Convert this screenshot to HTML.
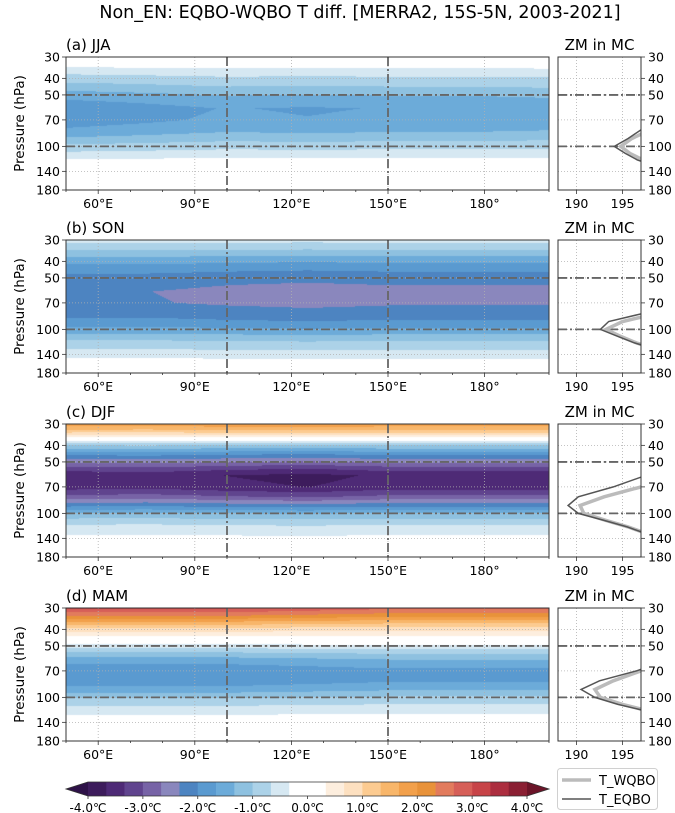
<!DOCTYPE html>
<html><head><meta charset="utf-8">
<style>
html,body{margin:0;padding:0;background:#fff;}
#wrap{position:relative;width:675px;height:813px;overflow:hidden;font-family:"DejaVu Sans","Liberation Sans",sans-serif;}
canvas{position:absolute;}
svg{position:absolute;left:0;top:0;}
</style></head>
<body>
<div id="wrap">
<canvas id="c0"></canvas>
<canvas id="c1"></canvas>
<canvas id="c2"></canvas>
<canvas id="c3"></canvas>
<svg id="svg" width="675" height="813"></svg>
</div>
<script>
// ---- data ----
const seasons = ["(a) JJA","(b) SON","(c) DJF","(d) MAM"];
const pLevels = [30,33,36,40,45,50,55,60,70,80,90,100,115,130,150,180];
const lonNodes = [50,75,100,125,150,175,200];
const profJJA = [0,-0.15,-0.45,-0.75,-1.05,-1.35,-1.55,-1.7,-1.65,-1.45,-1.15,-0.8,-0.4,0,0.05,0];
const profSON = [-0.55,-0.85,-1.2,-1.6,-1.95,-2.2,-2.33,-2.4,-2.38,-2.2,-1.95,-1.6,-1.05,-0.7,-0.3,0.0];
const profDJF = [1.9,1.2,0.3,-1.0,-1.9,-2.6,-3.2,-3.6,-3.5,-2.9,-2.1,-1.3,-0.7,-0.4,-0.1,0];
const profMAM = [2.9,2.3,1.6,0.8,0.2,-0.45,-1.0,-1.4,-1.85,-1.8,-1.45,-1.0,-0.55,-0.25,0,0];
const lonJJA = [1.12,1.05,0.97,1.0,0.97,0.97,0.93];
const lonSON = [0.97,0.97,1.0,1.02,1.0,1.0,1.0];
const lonDJF = [1.0,0.98,1.02,1.05,1.0,1.0,1.0];
const lonMAM = [1.05,1.05,1.05,1.0,0.95,0.95,0.95];
const zmP = [50,60,70,80,90,100,110,120,130,140];
const wqboJJA = [213,208,203,198,196,194.8,195.8,197.2,199,202];
const eqboJJA = [212,207,202,197,195.6,194.1,195.3,196.6,198.5,201];
const wqboSON = [214,208,203,199,195,193.2,194.8,196.5,198.5,201];
const eqboSON = [212,206,201,197.5,193.5,192.6,194.5,196.3,198.5,201];
const wqboDJF = [206,200,197,193,190.4,190.8,193.2,195.6,197.4,199.2];
const eqboDJF = [203,197.5,194,190.2,189.1,190.2,193,195.5,197.3,199];
const wqboMAM = [207,202,197,194,192,192.6,195,197.8,200,202];
const eqboMAM = [205,200,196.5,192.5,190.5,192,194.5,197.5,200,202];
const levelColors = ["#3d1c5c","#4e2a76","#60448e","#7763a6","#8a87bd","#4d84c1","#5a9ad0","#6cabd9","#8ec1e0","#acd2e8","#d6e8f2","#ffffff","#ffffff","#fdeede","#fde0c0","#fccb91","#f8b66a","#f2a04b","#e8923a","#e27b5d","#d65f58","#c74448","#ac2e3f","#8a1f33"];
const cbTicks = [-4,-3,-2,-1,0,1,2,3,4];
const lonTicks = [60,90,120,150,180];
const lonTickLabels = ["60°E","90°E","120°E","150°E","180°"];
const pTicks = [30,40,50,70,100,140,180];
const zmTicks = [190,195];

const profs=[profJJA,profSON,profDJF,profMAM];
const lons=[lonJJA,lonSON,lonDJF,lonMAM];
const wq=[wqboJJA,wqboSON,wqboDJF,wqboMAM];
const eq=[eqboJJA,eqboSON,eqboDJF,eqboMAM];

// ---- layout ----
const X0=66,X1=549,SX0=558,SX1=641,H=133,tops=[57,240,424,608];
const lonMin=50,lonMax=200,zmMin=188,zmMax=197;
const xs=l=>X0+(l-lonMin)/(lonMax-lonMin)*(X1-X0);
const zx=t=>SX0+(t-zmMin)/(zmMax-zmMin)*(SX1-SX0);
const yp=(p,top)=>top+Math.log(p/30)/Math.log(180/30)*H;
const NS='http://www.w3.org/2000/svg';
const svg=document.getElementById('svg');
function mk(tag,attrs,parent){const e=document.createElementNS(NS,tag);for(const k in attrs)e.setAttribute(k,attrs[k]);(parent||svg).appendChild(e);return e;}
function interp(xa,ya,x){if(x<=xa[0])return ya[0];for(let i=1;i<xa.length;i++){if(x<=xa[i]){const t=(x-xa[i-1])/(xa[i]-xa[i-1]);return ya[i-1]+t*(ya[i]-ya[i-1]);}}return ya[ya.length-1];}
const logP=pLevels.map(Math.log);
function hex(c){return [parseInt(c.substr(1,2),16),parseInt(c.substr(3,2),16),parseInt(c.substr(5,2),16)];}
const rgb=levelColors.map(hex);

// title
const t=mk('text',{x:360,y:18,'text-anchor':'middle','font-size':'17.5',fill:'#000'});
t.textContent="Non_EN: EQBO-WQBO T diff. [MERRA2, 15S-5N, 2003-2021]";


for(let s=0;s<4;s++){
  const top=tops[s],bot=top+H;
  const cv=document.getElementById('c'+s);
  const W=X1-X0;cv.width=W;cv.height=H;cv.style.left=X0+'px';cv.style.top=top+'px';
  const ctx=cv.getContext('2d');const img=ctx.createImageData(W,H);
  const lonScale=[];for(let x=0;x<W;x++){lonScale.push(interp(lonNodes,lons[s],lonMin+(x+0.5)/W*(lonMax-lonMin)));}
  for(let y=0;y<H;y++){
    const p=30*Math.pow(6,(y+0.5)/H);
    const base=interp(logP,profs[s],Math.log(p));
    for(let x=0;x<W;x++){
      const v=base*lonScale[x];
      let i=Math.floor((v+4)*3);if(i<0)i=0;if(i>23)i=23;
      const c=rgb[i],k=(y*W+x)*4;img.data[k]=c[0];img.data[k+1]=c[1];img.data[k+2]=c[2];img.data[k+3]=255;
    }
  }
  ctx.putImageData(img,0,0);
  const g=mk('g',{});
  lonTicks.forEach(l=>mk('line',{x1:xs(l),x2:xs(l),y1:top,y2:bot,stroke:'#b0b0b0','stroke-width':0.8,'stroke-dasharray':'1,2'},g));
  pTicks.forEach(p=>{mk('line',{x1:X0,x2:X1,y1:yp(p,top),y2:yp(p,top),stroke:'#b0b0b0','stroke-width':0.8,'stroke-dasharray':'1,2'},g);
    mk('line',{x1:SX0,x2:SX1,y1:yp(p,top),y2:yp(p,top),stroke:'#b0b0b0','stroke-width':0.8,'stroke-dasharray':'1,2'},g);});
  zmTicks.forEach(v=>mk('line',{x1:zx(v),x2:zx(v),y1:top,y2:bot,stroke:'#b0b0b0','stroke-width':0.8,'stroke-dasharray':'1,2'},g));
  [50,100].forEach(p=>{mk('line',{x1:X0,x2:X1,y1:yp(p,top),y2:yp(p,top),stroke:'#666','stroke-width':1.8,'stroke-dasharray':'9,3,2,3'},g);
    mk('line',{x1:SX0,x2:SX1,y1:yp(p,top),y2:yp(p,top),stroke:'#666','stroke-width':1.8,'stroke-dasharray':'9,3,2,3'},g);});
  [100,150].forEach(l=>mk('line',{x1:xs(l),x2:xs(l),y1:top,y2:bot,stroke:'#666','stroke-width':1.8,'stroke-dasharray':'9,3,2,3'},g));
  const cid='clip'+s;const cp=mk('clipPath',{id:cid},g);mk('rect',{x:SX0,y:top,width:SX1-SX0,height:H},cp);
  const pts=a=>a.map((v,i)=>zx(v).toFixed(1)+','+yp(zmP[i],top).toFixed(1)).join(' ');
  const lw=mk('polyline',{points:pts(wq[s]),fill:'none',stroke:'#bbbbbb','stroke-width':3.5,'clip-path':'url(#'+cid+')'},g);
  
  const le=mk('polyline',{points:pts(eq[s]),fill:'none',stroke:'#555','stroke-width':1.5,'clip-path':'url(#'+cid+')'},g);
  
  mk('rect',{x:X0,y:top,width:X1-X0,height:H,fill:'none',stroke:'#333','stroke-width':1},g);
  mk('rect',{x:SX0,y:top,width:SX1-SX0,height:H,fill:'none',stroke:'#333','stroke-width':1},g);
  for(let l=50;l<=200;l+=10){const major=lonTicks.includes(l);mk('line',{x1:xs(l),x2:xs(l),y1:bot,y2:bot+(major?4:2),stroke:'#333','stroke-width':0.8},g);}
  lonTicks.forEach((l,i)=>{const tx=mk('text',{x:xs(l),y:bot+18,'text-anchor':'middle','font-size':12.5},g);tx.textContent=lonTickLabels[i];});
  zmTicks.forEach(v=>{mk('line',{x1:zx(v),x2:zx(v),y1:bot,y2:bot+4,stroke:'#333','stroke-width':0.8},g);const tx=mk('text',{x:zx(v),y:bot+18,'text-anchor':'middle','font-size':12.5},g);tx.textContent=v;});
  pTicks.forEach(p=>{const y=yp(p,top);mk('line',{x1:X0-4,x2:X0,y1:y,y2:y,stroke:'#333','stroke-width':0.8},g);
    const a=mk('text',{x:X0-6,y:y+4.5,'text-anchor':'end','font-size':12.5},g);a.textContent=p;
    mk('line',{x1:SX1,x2:SX1+4,y1:y,y2:y,stroke:'#333','stroke-width':0.8},g);
    const b=mk('text',{x:SX1+7,y:y+4.5,'font-size':12.5},g);b.textContent=p;});
  const lab=mk('text',{x:X0,y:top-7,'font-size':15},g);lab.textContent=seasons[s];
  
  const zm=mk('text',{x:(SX0+SX1)/2,y:top-7,'text-anchor':'middle','font-size':15},g);zm.textContent="ZM in MC";
  
  const yl=mk('text',{x:0,y:0,'text-anchor':'middle','font-size':13.5,transform:'translate(24,'+(top+H/2)+') rotate(-90)'},g);yl.textContent="Pressure (hPa)";
  
}
// colorbar
const cb=mk('g',{});
const CB0=88,CB1=527,CBy=782,CBh=14;const cbx=v=>CB0+(v+4)/8*(CB1-CB0);
levelColors.forEach((c,i)=>{mk('rect',{x:cbx(-4+i/3),y:CBy,width:(CB1-CB0)/24+0.3,height:CBh,fill:c},cb);});
mk('polygon',{points:`${CB0},${CBy} ${X0},${CBy+CBh/2} ${CB0},${CBy+CBh}`,fill:'#2e1248'},cb);
mk('polygon',{points:`${CB1},${CBy} ${X1},${CBy+CBh/2} ${CB1},${CBy+CBh}`,fill:'#6b1428'},cb);
mk('polygon',{points:`${CB0},${CBy} ${X0},${CBy+CBh/2} ${CB0},${CBy+CBh} ${CB1},${CBy+CBh} ${X1},${CBy+CBh/2} ${CB1},${CBy}`,fill:'none',stroke:'#333','stroke-width':0.8},cb);
cbTicks.forEach(v=>{mk('line',{x1:cbx(v),x2:cbx(v),y1:CBy+CBh,y2:CBy+CBh+3,stroke:'#333','stroke-width':0.8},cb);
  const tx=mk('text',{x:cbx(v),y:CBy+CBh+16,'text-anchor':'middle','font-size':12},cb);tx.textContent=v.toFixed(1)+"℃";});
// legend
const lg=mk('g',{});
mk('rect',{x:557.5,y:768.5,width:100,height:41,rx:3,fill:'#fff',stroke:'#d0d0d0'},lg);
mk('line',{x1:562,x2:591,y1:780,y2:780,stroke:'#bbbbbb','stroke-width':3.5},lg);
mk('line',{x1:562,x2:591,y1:799,y2:799,stroke:'#555','stroke-width':1.5},lg);
const l1=mk('text',{x:599,y:785,'font-size':13},lg);l1.textContent="T_WQBO";

const l2=mk('text',{x:599,y:804,'font-size':13},lg);l2.textContent="T_EQBO";

</script>
</body></html>
